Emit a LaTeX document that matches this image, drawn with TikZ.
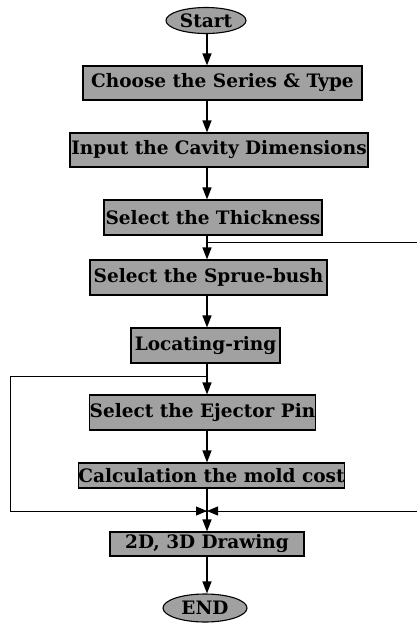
\documentclass[tikz,border=0pt]{standalone}
\usepackage{fontspec}
\setmainfont{DejaVu Serif}
\usetikzlibrary{arrows.meta,shapes.geometric}
\begin{document}
\begin{tikzpicture}[x=1pt,y=-1pt,
  box/.style={draw=black,line width=1.1pt,fill=black!37,rectangle,inner sep=0pt,
    font=\bfseries\fontsize{18.5}{18.5}\selectfont},
  oval/.style={draw=black,line width=1.1pt,fill=black!37,ellipse,inner sep=0pt,
    font=\bfseries\fontsize{18.5}{18.5}\selectfont},
  arr/.style={line width=1.3pt,-{Triangle[length=12pt,width=9pt]}},
  ln/.style={line width=1pt}]
\useasboundingbox (0,0) rectangle (417,630);
\coordinate (spine) at (207,0);
\node[oval,minimum width=80,minimum height=26] (start) at (206,20.5) {Start};
\node[box,minimum width=279,minimum height=34] (b1) at (222.5,83) {Choose the Series \& Type};
\node[box,minimum width=298,minimum height=34] (b2) at (219,150) {Input the Cavity Dimensions};
\node[box,minimum width=218,minimum height=35] (b3) at (213,217.5) {Select the Thickness};
\node[box,minimum width=237,minimum height=35] (b4) at (208.5,277.5) {Select the Sprue-bush};
\node[box,minimum width=149,minimum height=35] (b5) at (205.5,345.5) {Locating-ring};
\node[box,minimum width=225,minimum height=35] (b6) at (202.5,412.5) {Select the Ejector Pin};
\node[box,minimum width=257,minimum height=25] (b7) at (211.5,475.5) {Calculation the mold cost};
\node[box,minimum width=194,minimum height=24] (b8) at (207,544) {2D, 3D Drawing};
\node[oval,minimum width=84,minimum height=28] (end) at (205,608) {END};
\coordinate (r1) at (417,242);
\coordinate (l1) at (207,376);
\coordinate (lc1) at (10,376);
\coordinate (lc2) at (10,511);
\coordinate (bow) at (207,511);
\coordinate (rc) at (417,511);
\draw[arr] (start.south -| spine) -- (b1.north -| spine);
\draw[arr] (b1.south -| spine) -- (b2.north -| spine);
\draw[arr] (b2.south -| spine) -- (b3.north -| spine);
\draw[arr] (b3.south -| spine) -- (b4.north -| spine);
\draw[ln] (spine |- r1) -- (r1);
\draw[arr] (b4.south -| spine) -- (b5.north -| spine);
\draw[arr] (b5.south -| spine) -- (b6.north -| spine);
\draw[arr] (b6.south -| spine) -- (b7.north -| spine);
\draw[arr] (b7.south -| spine) -- (b8.north -| spine);
\draw[arr] (b8.south -| spine) -- (end.north -| spine);
\draw[ln] (l1) -- (lc1) -- (lc2) -- (bow);
\draw[ln,-{Triangle[length=11pt,width=9pt]}] (lc2) -- (bow);
\draw[ln,-{Triangle[length=11pt,width=9pt]}] (rc) -- (bow);
\end{tikzpicture}
\end{document}
